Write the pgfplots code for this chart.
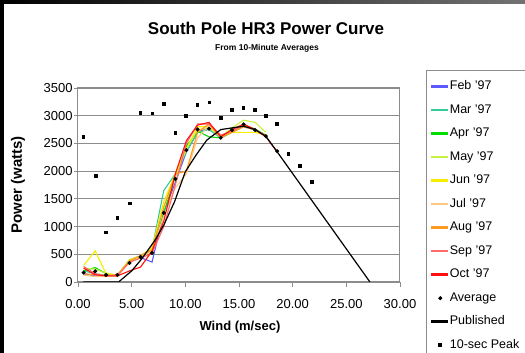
\documentclass[border=0pt]{standalone}
\usepackage{pgfplots}
\usepackage{pgfplotstable}
\pgfplotsset{compat=1.18}
\usepackage{fontspec}
\setmainfont{Liberation Sans}
\definecolor{cFeb}{HTML}{5A5AFF}
\definecolor{cMar}{HTML}{33CC99}
\definecolor{cApr}{HTML}{00DD00}
\definecolor{cMay}{HTML}{C8F040}
\definecolor{cJun}{HTML}{F5EE00}
\definecolor{cJul}{HTML}{FFC880}
\definecolor{cAug}{HTML}{FF9A20}
\definecolor{cSep}{HTML}{FF6A6A}
\definecolor{cOct}{HTML}{FF1010}
\definecolor{gridc}{HTML}{8C8C8C}

\pgfplotstableread{
x      feb  mar  apr  may  jun  jul  aug  sep  oct  avg
0.52   150  200  200  250  300  120  150  280  250  169
1.60   110  150  260  230  560  100  130  150  130  193
2.62   110  120  150  160  150  100  120  110  110  127
3.67   120  120  120  120  120  110  130  110  110  127
4.80   390  400  380  380  400  350  380  360  200  343
5.83   440  470  450  450  470  440  480  430  270  452
6.90   360  600  560  600  620  560  580  520  560  524
7.99  1250 1650 1250 1350 1450 1200 1350 1000 1100 1247
9.07  1800 1950 1900 1900 1950 1700 1950 1750 1950 1861
10.10 2350 2350 2450 2400 2400 1950 2000 2500 2550 2379
11.14 2700 2700 2720 2750 2800 2600 2700 2850 2830 2753
12.20 2780 2750 2620 2780 2800 2820 2850 2850 2880 2765
13.30 2600 2600 2600 2620 2650 2650 2600 2650 2620 2602
14.35 2720 2720 2700 2780 2700 2700 2700 2720 2750 2741
15.43 2800 2820 2830 2920 2700 2800 2800 2830 2850 2843
16.50 2750 2740 2760 2880 2700 2750 2750 2740 2750 2741
17.50 2640 2640 2650 2700 2650 2640 2640 2640 2620 2632
18.55 nan  nan  nan  nan  nan  nan  nan  nan  2350 2361
}\monthly

\pgfplotstableread{
x     p
0.52  2620
1.67  1916
2.62  892
3.67  1157
4.85  1416
5.83  3054
6.94  3042
7.99  3217
9.07  2693
10.09 3000
11.14 3199
12.25 3241
13.30 2964
14.35 3102
15.43 3139
16.50 3102
17.50 3000
18.55 2855
19.60 2313
20.70 2096
21.80 1807
}\peak

\pgfplotstableread{
x     p
0.50  0
3.78  0
5.00  200
5.95  420
7.16  750
8.00  1030
9.00  1450
10.00 1990
11.00 2290
12.00 2560
13.30 2750
14.35 2780
15.43 2810
16.50 2750
17.50 2630
18.55 2350
27.20 0
}\published

\begin{document}
\begin{tikzpicture}
\useasboundingbox (0pt,0pt) rectangle (525pt,353pt);
\clip (0pt,0pt) rectangle (525pt,353pt);
\fill[white] (0pt,0pt) rectangle (525pt,353pt);
\fill[black] (0pt,0pt) rectangle (4pt,353pt);
\shade[left color=black, right color=black!55] (0pt,349pt) rectangle (525pt,353pt);
\node[font=\bfseries\fontsize{17}{20}\selectfont] at (266pt,325pt) {South Pole HR3 Power Curve};
\node[font=\bfseries\fontsize{8.5}{10}\selectfont] at (267pt,305pt) {From 10-Minute Averages};
\draw[gridc, line width=0.8pt] (426pt,-5pt) rectangle (540pt,282.3pt);
\begin{axis}[
  at={(78pt,71pt)}, anchor=south west,
  scale only axis, width=322pt, height=194pt,
  xmin=0, xmax=30, ymin=0, ymax=3500,
  xtick={0,5,...,30}, ytick={0,500,...,3500},
  xticklabel={\pgfmathprintnumber[fixed,fixed zerofill,precision=2]{\tick}},
  /pgf/number format/1000 sep={},
  /pgf/number format/assume math mode=true,
  tick align=outside, xtick pos=bottom, ytick pos=left,
  xtick style={gridc, line width=0.8pt, /pgfplots/major tick length=5pt},
  ytick style={gridc, line width=0.8pt, /pgfplots/major tick length=4pt},
  axis line style={gridc, line width=1pt},
  ymajorgrids, grid style={gridc, line width=1.2pt},
  xticklabel style={font=\fontsize{13}{15}\selectfont, inner sep=0pt, anchor=north, yshift=-13pt},
  yticklabel style={font=\fontsize{13}{15}\selectfont, inner sep=0pt, anchor=east, xshift=-1pt},
  xlabel={Wind (m/sec)}, ylabel={Power (watts)},
  xlabel style={font=\bfseries\fontsize{13}{15}\selectfont, at={(axis description cs:0.503,-0.232)}, anchor=center},
  ylabel style={font=\bfseries\fontsize{15}{17}\selectfont, at={(axis description cs:-0.186,0.5)}, anchor=center},
  legend style={at={(1.0807,1.089)}, anchor=north west, draw=none, fill=none,
    font=\fontsize{12.5}{14}\selectfont, row sep=12pt, inner xsep=5pt, inner ysep=10pt,
    nodes={inner sep=0pt, text height=9pt, text depth=2.5pt},
    /tikz/every odd column/.append style={column sep=1.5pt}},
  legend cell align=left,
  every axis plot/.append style={line width=1.1pt},
  monthline/.style={no marks, legend image code/.code={\fill[##1] (0pt,-0.65pt) rectangle (16pt,0.65pt);}},
]
\addplot[color=cFeb, monthline] table[x=x, y=feb] {\monthly};
\addlegendentry{Feb '97}
\addplot[color=cMar, monthline] table[x=x, y=mar] {\monthly};
\addlegendentry{Mar '97}
\addplot[color=cApr, monthline] table[x=x, y=apr] {\monthly};
\addlegendentry{Apr '97}
\addplot[color=cMay, monthline] table[x=x, y=may] {\monthly};
\addlegendentry{May '97}
\addplot[color=cJun, monthline] table[x=x, y=jun] {\monthly};
\addlegendentry{Jun '97}
\addplot[color=cJul, monthline] table[x=x, y=jul] {\monthly};
\addlegendentry{Jul '97}
\addplot[color=cAug, monthline] table[x=x, y=aug] {\monthly};
\addlegendentry{Aug '97}
\addplot[color=cSep, monthline] table[x=x, y=sep] {\monthly};
\addlegendentry{Sep '97}
\addplot[color=cOct, monthline] table[x=x, y=oct] {\monthly};
\addlegendentry{Oct '97}
\addplot[only marks, mark=*, mark size=1.4pt, black] table[x=x, y=avg] {\monthly};
\addlegendentry{Average}
\addplot[black, monthline, line width=1.2pt] table[x=x, y=p] {\published};
\addlegendentry{Published}
\addplot[only marks, mark=square*, mark size=1.3pt, black] table[x=x, y=p] {\peak};
\addlegendentry{10-sec Peak}
\end{axis}
\end{tikzpicture}
\end{document}
